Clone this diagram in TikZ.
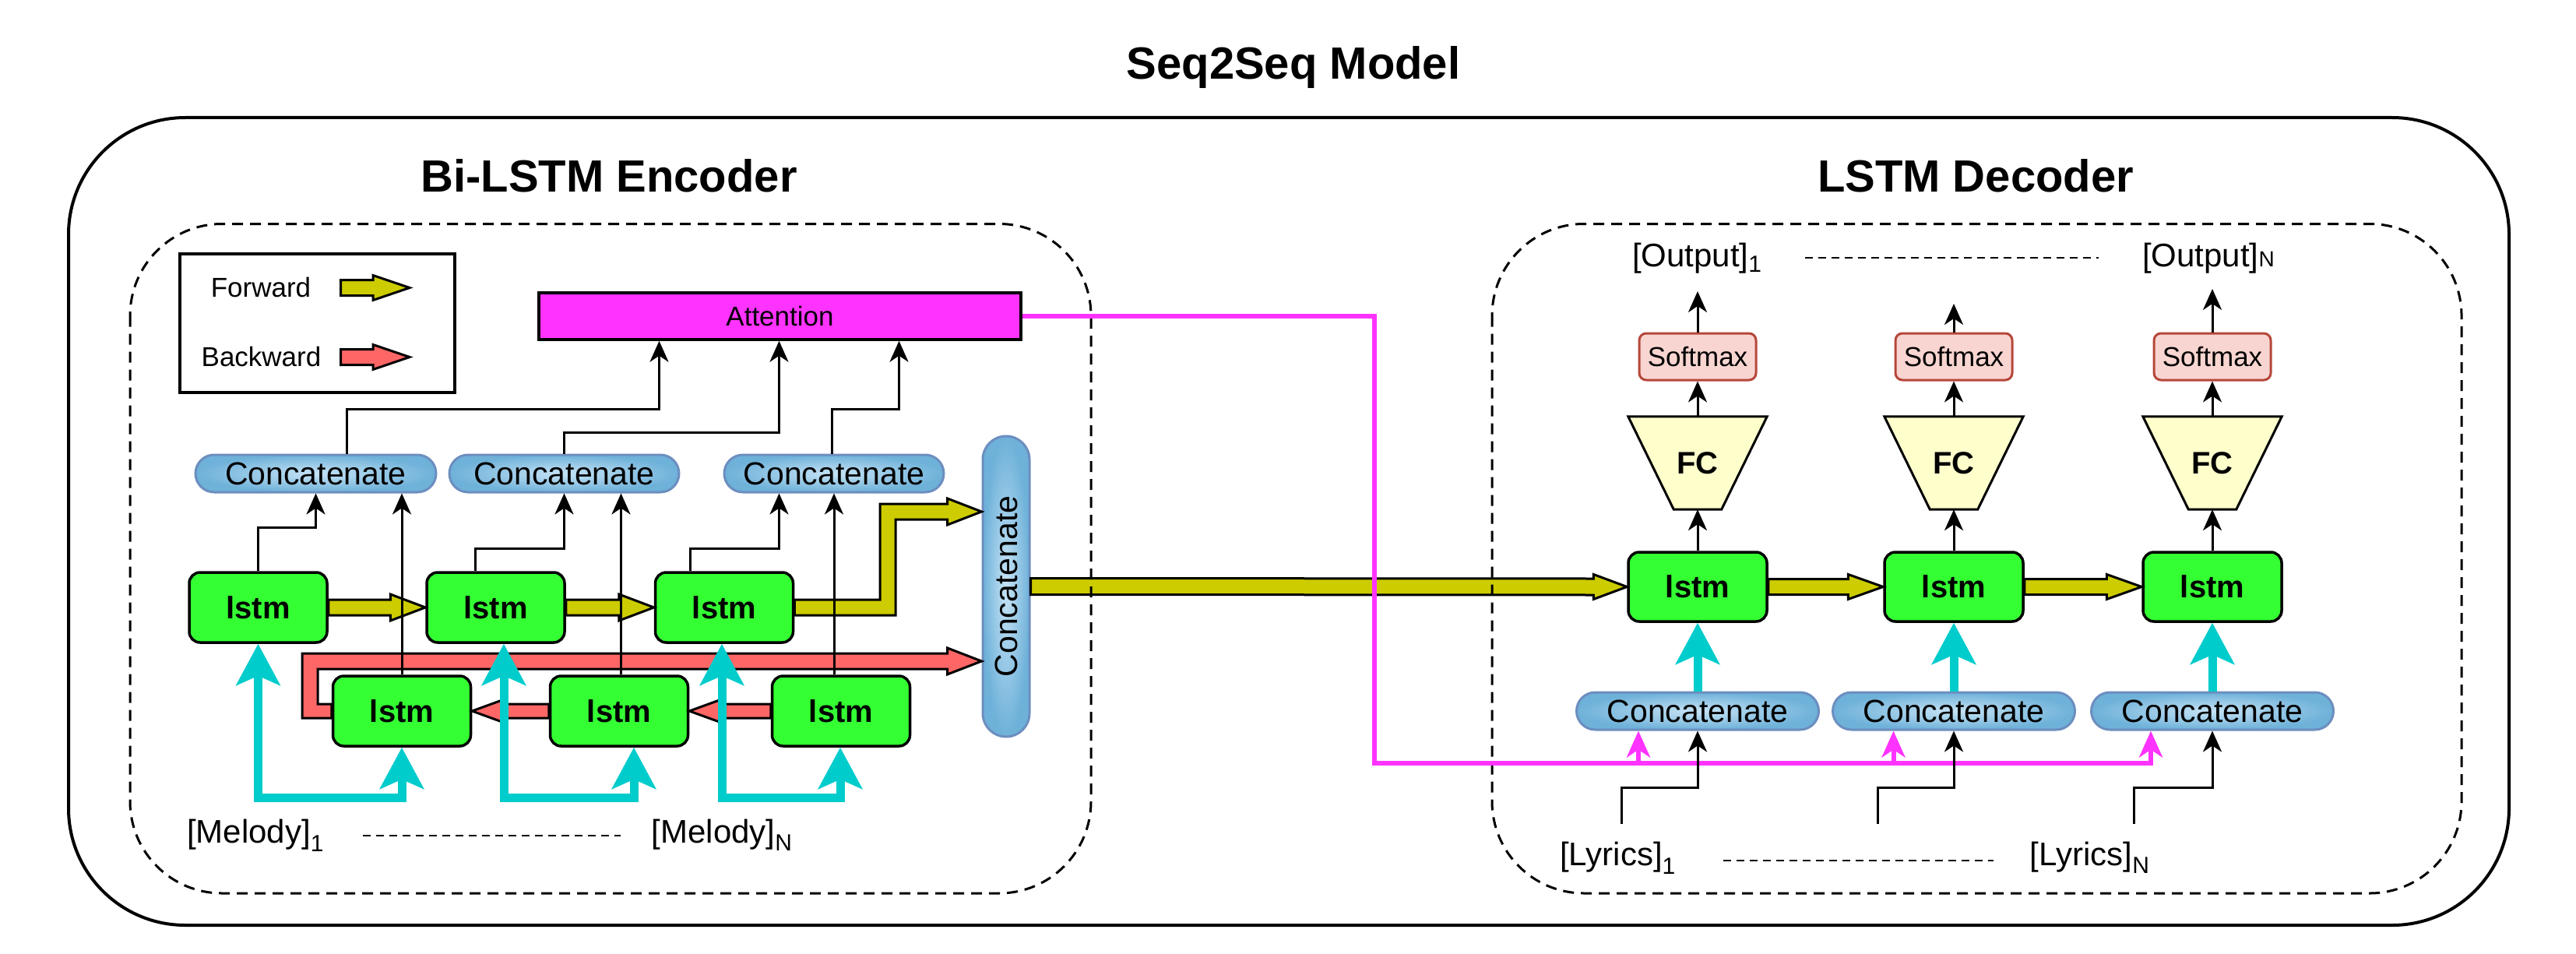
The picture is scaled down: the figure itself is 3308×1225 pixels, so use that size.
\documentclass[tikz,border=0pt]{standalone}
\usepackage{fontspec}
\setmainfont{Liberation Sans}
\usetikzlibrary{calc,arrows.meta}
\definecolor{lstmg}{HTML}{33FF33}
\definecolor{yel}{HTML}{CCCC00}
\definecolor{redar}{HTML}{FF6666}
\definecolor{cyanc}{HTML}{00CCCC}
\definecolor{mag}{HTML}{FF33FF}
\definecolor{pillb}{HTML}{6C8EBF}
\definecolor{pilli}{HTML}{C6E3F5}
\definecolor{pillo}{HTML}{6EB1D9}
\definecolor{smf}{HTML}{F8D5D0}
\definecolor{sms}{HTML}{B5473A}
\definecolor{fcf}{HTML}{FFFFCC}
\newcommand\fatarrow[6]{%
  \filldraw[fill=#3,draw=black,line width=3pt,line join=miter]
    ($(#1)+(0,-#4)$) -- ($(#2)+(#6,-#4)$) -- ($(#2)+(#6,-#5)$) -- (#2)
    -- ($(#2)+(#6,#5)$) -- ($(#2)+(#6,#4)$) -- ($(#1)+(0,#4)$) -- cycle;}
\newcommand\subl[2]{\raisebox{#1}{\fontsize{30}{30}\selectfont #2}}
\begin{document}
\begin{tikzpicture}[x=1pt,y=-1pt,
  titlef/.style={font=\fontsize{58}{64}\selectfont\bfseries, inner sep=0pt, anchor=base},
  lstmbox/.style={draw, line width=3.5pt, fill=lstmg, rounded corners=14pt, minimum width=177pt, minimum height=90pt, inner sep=0pt, font=\fontsize{40}{44}\selectfont\bfseries},
  pill/.style={draw=pillb, line width=3pt, rounded corners=24pt, inner color=pilli, outer color=pillo, minimum height=48pt, inner sep=0pt, font=\fontsize{41}{46}\selectfont},
  smbox/.style={draw=sms, fill=smf, line width=3pt, rounded corners=9pt, minimum width=150pt, minimum height=60pt, inner sep=0pt, font=\fontsize{35}{40}\selectfont},
  fcbox/.style={minimum width=178pt, minimum height=119pt, inner sep=0pt},
  fctext/.style={font=\fontsize{40}{44}\selectfont\bfseries, inner sep=0pt},
  lbl/.style={font=\fontsize{42}{46}\selectfont, inner sep=0pt, anchor=base west},
  legt/.style={font=\fontsize{35}{40}\selectfont, inner sep=0pt},
  thinar/.style={draw=black, line width=3pt, -{Stealth[length=27pt,width=24pt,inset=8pt]}},
  cyanar/.style={draw=cyanc, line width=11pt, -{Stealth[length=53pt,width=56pt,inset=12pt]}},
  cyanar2/.style={draw=cyanc, line width=11pt, {Stealth[length=53pt,width=56pt,inset=12pt]}-{Stealth[length=53pt,width=56pt,inset=12pt]}},
  pinkar/.style={draw=mag, line width=6pt, -{Stealth[length=34pt,width=30pt,inset=10pt]}},
  frame/.style={draw=black, line width=3pt, dash pattern=on 14pt off 9pt, rounded corners=118pt},
  sepline/.style={draw=black, line width=2.5pt, dash pattern=on 10pt off 7pt}
]
\useasboundingbox (0,0) rectangle (3308,1225);

% ---------- titles ----------
\node[titlef] (ttl) at (1661,102) {Seq2Seq Model};
\node[titlef] (enct) at (782,247) {Bi-LSTM Encoder};
\node[titlef] (dect) at (2537,247) {LSTM Decoder};

% ---------- legend ----------
\node[draw, line width=3.5pt, minimum width=353pt, minimum height=178pt, inner sep=0pt] (legend) at (407.5,415) {};
\node[legt] (lfw) at (335,369) {Forward};
\node[legt] (lbw) at (335.5,458) {Backward};
\coordinate (lfa) at (437.6,369.5);
\coordinate (lfb) at (526,369.5);
\coordinate (lba) at (437.6,458.5);
\coordinate (lbb) at (526,458.5);

% ---------- encoder nodes ----------
\node[draw, line width=3.5pt, fill=mag, minimum width=619pt, minimum height=60pt, inner sep=0pt, font=\fontsize{35}{40}\selectfont] (att) at (1001.5,406) {Attention};
\node[pill, minimum width=309pt] (c1) at (405.5,608) {Concatenate};
\node[pill, minimum width=295pt] (c2) at (724.5,608) {Concatenate};
\node[pill, minimum width=282pt] (c3) at (1071,608) {Concatenate};
\node[pill, minimum width=60pt, minimum height=386pt, rounded corners=30pt] (cc) at (1292,753) {};
\node[font=\fontsize{41}{46}\selectfont, inner sep=0pt, rotate=90] (cct) at (cc.center) {Concatenate};

\node[lstmbox] (f1) at (331.5,780) {lstm};
\node[lstmbox] (f2) at (636.5,780) {lstm};
\node[lstmbox] (f3) at (930,780) {lstm};
\node[lstmbox] (b1) at (516,913) {lstm};
\node[lstmbox] (b2) at (795,913) {lstm};
\node[lstmbox] (b3) at (1080,913) {lstm};

\node[lbl] (m1) at (240,1082) {[Melody]\subl{-11pt}{1}};
\node[lbl] (mN) at (836.5,1082) {[Melody]\subl{-10pt}{N}};

% ---------- decoder nodes ----------
\foreach \i/\X in {1/2180,2/2509,3/2841}{
  \node[lstmbox, minimum width=178pt, minimum height=89pt] (d\i) at (\X,753.5) {lstm};
  \node[pill, minimum width=311pt] (dc\i) at (\X,913) {Concatenate};
  \node[smbox] (s\i) at (\X,458) {Softmax};
  \path node[fcbox] (fc\i) at (\X,594.5) {};
  \filldraw[fill=fcf, line width=3pt, line join=miter] (fc\i.north west) -- (fc\i.north east)
     -- ($(fc\i.south east)+(-58.5,0)$) -- ($(fc\i.south west)+(58.5,0)$) -- cycle;
  \node[fctext] (fct\i) at (fc\i.center) {FC};
}
\node[lbl] (o1) at (2095.8,342) {[Output]\subl{-7pt}{1}};
\node[lbl] (oN) at (2751,342) {[Output]\raisebox{0pt}{\fontsize{28}{28}\selectfont N}};
\node[lbl] (ly1) at (2003,1111) {[Lyrics]\subl{-11pt}{1}};
\node[lbl] (lyN) at (2606.7,1111) {[Lyrics]\subl{-10pt}{N}};

% ---------- fat arrows ----------
\fatarrow{lfa}{lfb}{yel}{10}{16}{-47}
\fatarrow{lba}{lbb}{redar}{10}{16}{-47}
\fatarrow{f1.east}{f2.west}{yel}{10}{17}{-45}
\fatarrow{f2.east}{f3.west}{yel}{10}{17}{-45}
\fatarrow{b2.west}{b1.east}{redar}{9}{16}{44}
\fatarrow{b3.west}{b2.east}{redar}{9}{16}{44}
\fatarrow{d1.east}{d2.west}{yel}{10}{16}{-45}
\fatarrow{d2.east}{d3.west}{yel}{10}{16}{-45}
\fatarrow{cc.east}{d1.west}{yel}{10.5}{16}{-43}

\coordinate (yb) at (1140,657);
\filldraw[fill=yel, line width=3pt, line join=miter]
  ($(f3.east)+(0,-10)$) -- (1130,770) -- (1130,647) -- ($(cc.west|-yb)+(-44,-10)$)
  -- ($(cc.west|-yb)+(-44,-17)$) -- (cc.west|-yb) -- ($(cc.west|-yb)+(-44,17)$)
  -- ($(cc.west|-yb)+(-44,10)$) -- (1150,667) -- (1150,790) -- ($(f3.east)+(0,10)$) -- cycle;
\coordinate (rb) at (398,849);
\filldraw[fill=redar, line width=3pt, line join=miter]
  ($(b1.west)+(0,-9)$) -- (408,904) -- (408,859) -- ($(cc.west|-rb)+(-44,10)$)
  -- ($(cc.west|-rb)+(-44,17)$) -- (cc.west|-rb) -- ($(cc.west|-rb)+(-44,-17)$)
  -- ($(cc.west|-rb)+(-44,-10)$) -- (388,839) -- (388,922) -- ($(b1.west)+(0,9)$) -- cycle;

% ---------- frames ----------
\draw[frame] (167,287.5) rectangle (1401,1147);
\draw[frame] (1916,287.5) rectangle (3161,1147);
\draw[line width=4pt, rounded corners=150pt] (88,151) rectangle (3222,1188);

% ---------- pink attention path ----------
\coordinate (pk) at (1765,980);
\draw[pinkar] (att.east) -| (pk) -| ($(dc3.south)+(-79,0)$);
\draw[pinkar] ($(dc1.south)+(-76,43)$) -- ($(dc1.south)+(-76,0)$);
\draw[pinkar] ($(dc2.south)+(-77.5,43)$) -- ($(dc2.south)+(-77.5,0)$);

% ---------- thin black arrows, encoder ----------
\draw[thinar] (f1.north) |- ($(c1.south)+(0,44)$) -- (c1.south);
\draw[thinar] (b1.north) -- (b1.north |- c1.south);
\draw[thinar] ($(f2.north)+(-26.5,0)$) |- ($(c2.south)+(0,71)$) -- (c2.south);
\draw[thinar] ($(b2.north)+(2.5,0)$) -- ($(b2.north |- c2.south)+(2.5,0)$);
\draw[thinar] ($(f3.north)+(-44,0)$) |- ($(c3.south)+(-70.5,71)$) -- ($(c3.south)+(-70.5,0)$);
\draw[thinar] ($(b3.north)+(-9,0)$) -- ($(b3.north |- c3.south)+(-9,0)$);
\draw[thinar] ($(c1.north)+(40,0)$) |- ($(att.south)+(-155,88)$) -- ($(att.south)+(-155,0)$);
\draw[thinar] (c2.north) |- ($(att.south)+(-1,118)$) -- ($(att.south)+(-1,0)$);
\draw[thinar] ($(c3.north)+(-3,0)$) |- ($(att.south)+(153,88)$) -- ($(att.south)+(153,0)$);

% ---------- thin black arrows, decoder ----------
\coordinate (oe1) at (2180,374);
\coordinate (oe2) at (2509,390);
\coordinate (oe3) at (2841,371);
\coordinate (ls1) at (2082,1058);
\coordinate (ls2) at (2411,1058);
\coordinate (ls3) at (2740,1058);
\foreach \i in {1,2,3}{
  \draw[thinar] (d\i.north) -- (fc\i.south);
  \draw[thinar] (fc\i.north) -- (s\i.south);
  \draw[thinar] (s\i.north) -- (oe\i);
  \draw[thinar] (ls\i) |- ($(dc\i.south)+(0,73)$) -- (dc\i.south);
  \draw[cyanar] (dc\i.north) -- (d\i.south);
}

% ---------- cyan input arrows, encoder ----------
\coordinate (cyb) at (0,1024.5);
\draw[cyanar2] (f1.south) -- (f1.south |- cyb) -- (b1.south |- cyb) -- (b1.south);
\draw[cyanar2] ($(f2.south)+(10.5,0)$) -- ($(f2.south |- cyb)+(10.5,0)$) -- ($(b2.south |- cyb)+(19,0)$) -- ($(b2.south)+(19,0)$);
\draw[cyanar2] ($(f3.south)+(-3,0)$) -- ($(f3.south |- cyb)+(-3,0)$) -- ($(b3.south |- cyb)+(-1,0)$) -- ($(b3.south)+(-1,0)$);

% ---------- dashed separators ----------
\draw[sepline] ($(m1.base west)+(226,-9)$) -- ($(mN.base west)+(-40,-9)$);
\draw[sepline] ($(o1.base west)+(222,-11)$) -- ($(oN.base west)+(-56,-11)$);
\draw[sepline] ($(ly1.base west)+(209.5,-6)$) -- ($(lyN.base west)+(-46.7,-6)$);
\end{tikzpicture}
\end{document}
